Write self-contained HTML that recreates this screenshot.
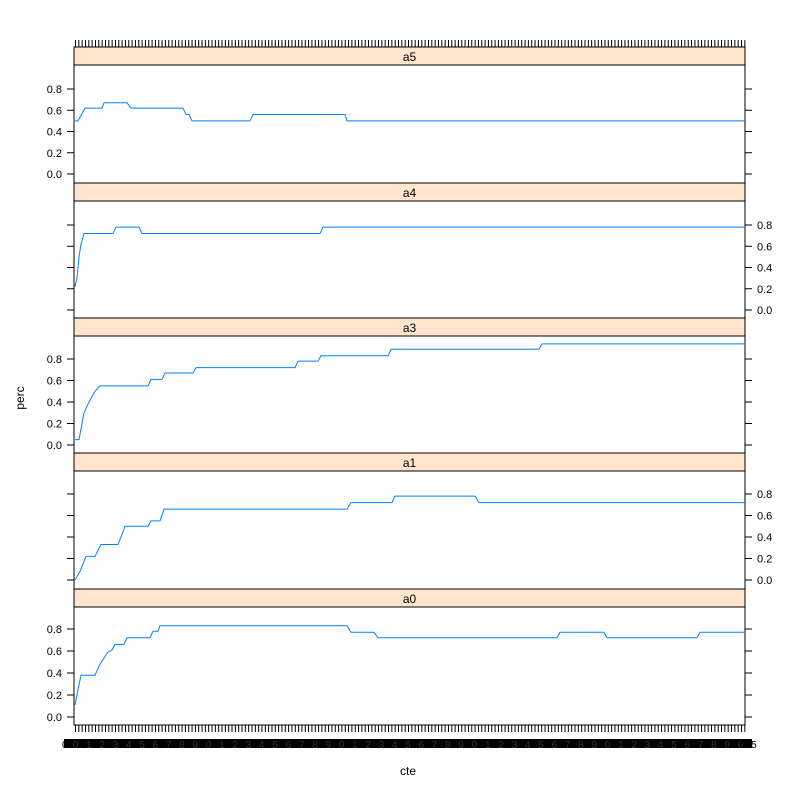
<!DOCTYPE html>
<html><head><meta charset="utf-8"><style>
html,body{margin:0;padding:0;background:#fff;}
svg{display:block;font-family:"Liberation Sans",sans-serif;}
</style></head><body>
<svg id="s" width="800" height="800" xmlns="http://www.w3.org/2000/svg"></svg>
<script>
const s=document.getElementById('s');
let h='';
const L=74,R=745;
const panels=[
 {n:'a5',st:47,top:65,bot:183,y0:174,y8:89,side:'L',
  d:[[75,.5],[78,.5],[85,.62],[102,.62],[104,.67],[127,.67],[131,.62],[183,.62],[186,.56],[189,.56],[192,.5],[250,.5],[253,.56],[345,.56],[347,.5],[745,.5]]},
 {n:'a4',st:183,top:201,bot:318,y0:310,y8:225,side:'R',
  d:[[75,.22],[77,.3],[79,.5],[81,.62],[84,.72],[113,.72],[116,.78],[139,.78],[142,.72],[320,.72],[323,.78],[745,.78]]},
 {n:'a3',st:318,top:336,bot:453,y0:445,y8:359,side:'L',
  d:[[75,.05],[79,.05],[81,.15],[84,.3],[88,.38],[92,.45],[95,.5],[100,.55],[148,.55],[151,.61],[162,.61],[165,.67],[193,.67],[196,.72],[295,.72],[298,.78],[318,.78],[321,.83],[388,.83],[391,.89],[539,.89],[542,.94],[745,.94]]},
 {n:'a1',st:453,top:471,bot:589,y0:580,y8:494,side:'R',
  d:[[75,0],[80,.08],[86,.22],[95,.22],[101,.33],[118,.33],[121,.4],[125,.5],[148,.5],[151,.55],[160,.55],[164,.66],[347,.66],[351,.72],[392,.72],[395,.78],[475,.78],[479,.72],[745,.72]]},
 {n:'a0',st:589,top:607,bot:725,y0:717,y8:629,side:'L',
  d:[[75,.11],[78,.25],[81,.38],[95,.38],[100,.48],[105,.55],[108,.59],[112,.61],[115,.66],[124,.66],[127,.72],[150,.72],[153,.78],[158,.78],[160,.83],[347,.83],[351,.77],[374,.77],[378,.72],[557,.72],[560,.77],[604,.77],[607,.72],[697,.72],[700,.77],[745,.77]]}
];
const ticks=[0,.2,.4,.6,.8];
panels.forEach(p=>{
 const k=(p.y0-p.y8)/0.8;
 h+=`<rect x="${L}" y="${p.st}" width="${R-L}" height="${p.top-p.st}" fill="#ffe5cc" stroke="#000" stroke-width="1"/>`;
 h+=`<text x="${(L+R)/2}" y="${p.top-4}" font-size="12" text-anchor="middle">${p.n}</text>`;
 h+=`<rect x="${L}" y="${p.top}" width="${R-L}" height="${p.bot-p.top}" fill="none" stroke="#000" stroke-width="1"/>`;
 ticks.forEach(t=>{
  const y=p.y0-t*k;
  h+=`<line x1="${L-7}" y1="${y}" x2="${L}" y2="${y}" stroke="#000"/>`;
  h+=`<line x1="${R}" y1="${y}" x2="${R+7}" y2="${y}" stroke="#000"/>`;
  if(p.side=='L') h+=`<text x="${L-12}" y="${y+4}" font-size="11" text-anchor="end">${t.toFixed(1)}</text>`;
  else h+=`<text x="${R+12}" y="${y+4}" font-size="11">${t.toFixed(1)}</text>`;
 });
 let pts='';
 for(let i=0;i<p.d.length;i++){pts+=`${p.d[i][0]},${(p.y0-p.d[i][1]*k).toFixed(1)} `;}
 h+=`<polyline points="${pts}" fill="none" stroke="#0080ff" stroke-width="1"/>`;
});
for(let x=75.5;x<=745;x+=3.33){
 h+=`<line x1="${x}" y1="40" x2="${x}" y2="47" stroke="#000"/>`;
 h+=`<line x1="${x}" y1="725" x2="${x}" y2="732" stroke="#000"/>`;
}
h+=`<rect x="64" y="739" width="688" height="9" fill="#000"/>`;
for(let x=75.5,i=0;x<=745;x+=13.3,i++){
 h+=`<text x="${x}" y="748" font-size="10" text-anchor="middle" fill="#fff" opacity="0.2">${(i%10)}</text>`;
}
h+=`<text x="62" y="748" font-size="10">0</text><text x="740" y="748" font-size="10" fill="#000">555</text>`;
h+=`<text x="408" y="775" font-size="12" text-anchor="middle">cte</text>`;
h+=`<text x="24" y="398" font-size="12" text-anchor="middle" transform="rotate(-90 24 398)">perc</text>`;
s.innerHTML=h;
</script>
</body></html>
